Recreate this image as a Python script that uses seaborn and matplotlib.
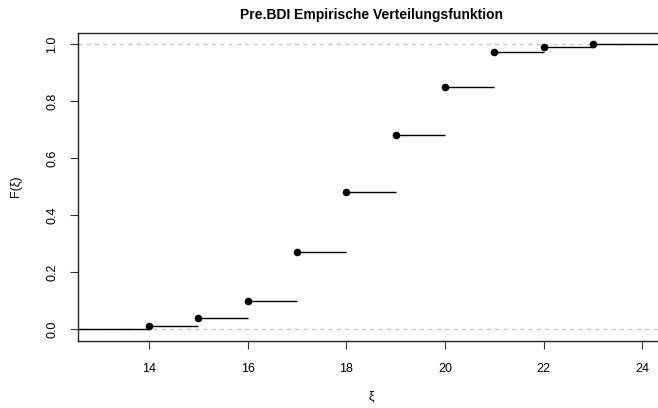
import matplotlib
matplotlib.use("Agg")
import matplotlib.pyplot as plt
import numpy as np
import pandas as pd
import seaborn as sns

# Daten
werte = [14, 15, 16, 17, 18, 19, 20, 21, 22, 23]
F = [0.01, 0.04, 0.10, 0.27, 0.48, 0.68, 0.85, 0.97, 0.99, 1.00]
x_ticks = [14, 16, 18, 20, 22, 24]
y_ticks = [0.0, 0.2, 0.4, 0.6, 0.8, 1.0]

sns.set_style("white")
plt.rcParams['font.family'] = ['Liberation Sans', 'DejaVu Sans']
plt.rcParams['text.color'] = 'black'
plt.rcParams['axes.labelcolor'] = 'black'
plt.rcParams['xtick.color'] = 'black'
plt.rcParams['ytick.color'] = 'black'

df = pd.DataFrame({'xi': werte, 'F': F})

fig = plt.figure(figsize=(6.58, 4.08), dpi=100)
# rechter Rand liegt wie im Original ausserhalb des Bildes
ax = fig.add_axes([78 / 658, 1 - 340.5 / 408, (664 - 78) / 658, (340.5 - 32.5) / 408])

xlim = (12.56, 24.44)
ax.set_xlim(xlim)
ax.set_ylim(-0.04, 1.04)

# gestrichelte Linien bei 0 und 1
for h in (0, 1):
    ax.axhline(h, color='#c8c8c8', ls=(0, (3, 3)), lw=1, zorder=1)

# Treppenstufen
starts = [xlim[0] - 1] + werte
ends = werte + [xlim[1] + 1]
levels = [0] + F
ax.hlines(levels, starts, ends, color='black', lw=1, zorder=2)

sns.scatterplot(data=df, x='xi', y='F', ax=ax, color='black', s=30,
                edgecolor='black', linewidth=0, zorder=3)

ax.set_xticks(x_ticks)
ax.set_yticks(y_ticks)
ax.set_xticklabels([str(t) for t in x_ticks], fontsize=9)
ax.set_yticklabels([f'{t:.1f}' for t in y_ticks], fontsize=9, rotation=90, va='center')
ax.tick_params(axis='both', direction='out', length=6, width=0.8, color='#333333',
               bottom=True, left=True)
ax.tick_params(axis='x', pad=10)
ax.tick_params(axis='y', pad=8)
for s in ax.spines.values():
    s.set_color('#222222')
    s.set_linewidth(1)

ax.set_xlabel('ξ', fontsize=9, labelpad=11)
ax.set_ylabel('F(ξ)', fontsize=9, labelpad=18)
ax.set_title('Pre.BDI Empirische Verteilungsfunktion', fontsize=10, fontweight='bold', pad=10)

fig.savefig('out.png', dpi=100)
